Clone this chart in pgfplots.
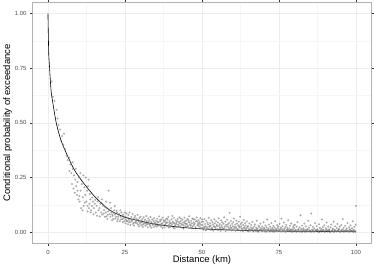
\documentclass[border=0pt]{standalone}
\usepackage{fontspec}
\setmainfont{Liberation Sans}
\usepackage{pgfplots}
\pgfplotsset{compat=1.18}
\begin{document}
\begin{tikzpicture}
\begin{axis}[
 scale only axis, width=341pt, height=242pt,
 xmin=-5, xmax=105, ymin=-0.05, ymax=1.05,
 xtick={0,25,50,75,100}, ytick={0,0.25,0.5,0.75,1},
 minor xtick={12.5,37.5,62.5,87.5}, minor ytick={0.125,0.375,0.625,0.875},
 yticklabel style={/pgf/number format/.cd, fixed, fixed zerofill, precision=2},
 /pgf/number format/assume math mode=true,
 grid=both, major grid style={gray!14, line width=0.5pt}, minor grid style={gray!7, line width=0.3pt},
 axis line style={gray!60, line width=0.7pt},
 tick style={gray!40!black, line width=0.4pt}, tick align=outside,
 major tick length=2.5pt, minor tick length=0pt,
 ticklabel style={font=\fontsize{6}{7}\selectfont, text=black!70},
 xlabel={Distance (km)}, ylabel={Conditional probability of exceedance},
 label style={font=\fontsize{9.5}{11}\selectfont},
 xlabel style={yshift=5pt},
 ylabel style={yshift=-4pt},
 xticklabel style={yshift=-1pt},
]
\addplot[only marks, mark=*, mark size=0.85pt, color=black!55, opacity=0.45, mark options={draw=none, fill=black!55}] coordinates {
(1.2,0.69)(1.6,0.62)(2.1,0.60)(2.8,0.56)(3.1,0.52)(3.4,0.49)(3.9,0.47)(4.6,0.44)(5.2,0.45)(4.2,0.42)(5.0,0.40)(5.6,0.38)(6.1,0.35)(6.4,0.33)(6.9,0.34)(7.3,0.31)(7.0,0.28)(7.6,0.27)(8.1,0.29)(8.4,0.26)(8.9,0.24)(7.8,0.22)(8.3,0.20)(8.7,0.18)(9.2,0.21)(9.6,0.23)(10.1,0.25)(9.4,0.17)(9.9,0.15)(10.3,0.14)(10.6,0.19)(11.0,0.22)(11.3,0.16)(10.8,0.11)(11.6,0.12)(12.1,0.17)(12.5,0.14)(12.9,0.12)(13.2,0.24)(13.5,0.13)(13.8,0.15)(14.0,0.10)(14.3,0.12)(14.6,0.14)(14.9,0.11)(15.2,0.13)(15.5,0.09)(15.8,0.12)(16.1,0.14)(16.4,0.10)(16.7,0.11)(17.0,0.13)(17.3,0.09)(17.6,0.08)(17.9,0.12)(18.2,0.10)(18.5,0.07)(18.8,0.09)(19.1,0.11)(19.4,0.08)(19.7,0.19)(20.0,0.10)(20.3,0.07)(20.6,0.09)(20.9,0.08)(21.2,0.06)(21.5,0.10)(21.8,0.08)(22.1,0.07)(22.4,0.09)(22.7,0.06)(23.0,0.08)(23.3,0.05)(23.6,0.07)(23.9,0.09)(24.2,0.06)(24.5,0.08)(24.8,0.05)
(9.0,0.29)(8.0,0.32)(10.5,0.27)(11.5,0.26)(12.3,0.25)(13.0,0.21)(12.0,0.135)(11.2,0.10)(13.3,0.11)(10.2,0.165)(9.6,0.19)
(18.1,0.085)(18.6,0.115)(19.0,0.072)(19.5,0.095)(20.1,0.082)(20.5,0.110)(21.0,0.075)(21.4,0.088)(21.9,0.062)(22.3,0.098)(22.8,0.071)(23.2,0.084)(23.7,0.058)(24.1,0.076)(24.6,0.065)(25.0,0.090)(19.3,0.060)(20.8,0.055)(22.5,0.050)(24.3,0.045)(23.5,0.100)(21.7,0.120)(20.2,0.135)(18.9,0.140)(17.5,0.150)(16.3,0.160)(15.3,0.148)(14.4,0.158)(13.6,0.175)(12.7,0.190)(11.8,0.205)(15.9,0.075)(14.8,0.082)(13.9,0.090)(12.9,0.095)(16.8,0.072)
(25.1,0.072)(25.3,0.058)(25.5,0.085)(25.7,0.049)(25.9,0.066)(26.1,0.078)(26.3,0.055)(26.5,0.090)(26.7,0.061)(26.9,0.047)(27.1,0.070)(27.3,0.052)(27.5,0.083)(27.7,0.059)(27.9,0.044)(28.1,0.067)(28.3,0.075)(28.5,0.050)(28.7,0.062)(28.9,0.041)(29.1,0.079)(29.3,0.056)(29.5,0.048)(29.7,0.065)(29.9,0.038)(30.1,0.071)(30.3,0.053)(30.5,0.045)(30.7,0.060)(30.9,0.036)(31.1,0.068)(31.3,0.049)(31.5,0.057)(31.7,0.042)(31.9,0.074)(32.1,0.051)(32.3,0.039)(32.5,0.063)(32.7,0.046)(32.9,0.055)(33.1,0.034)(33.3,0.069)(33.5,0.048)(33.7,0.041)(33.9,0.058)(34.1,0.037)(34.3,0.052)(34.5,0.064)(34.7,0.044)(34.9,0.031)
(25.2,0.040)(25.6,0.052)(26.0,0.036)(26.4,0.045)(26.8,0.033)(27.2,0.057)(27.6,0.038)(28.0,0.030)(28.4,0.043)(28.8,0.055)(29.2,0.034)(29.6,0.027)(30.0,0.046)(30.4,0.031)(30.8,0.024)(31.2,0.040)(31.6,0.029)(32.0,0.035)(32.4,0.022)(32.8,0.038)(33.2,0.027)(33.6,0.020)(34.0,0.033)(34.4,0.024)(34.8,0.040)
(35.1,0.052)(35.3,0.038)(35.5,0.061)(35.7,0.029)(35.9,0.045)(36.1,0.072)(36.3,0.034)(36.5,0.049)(36.7,0.026)(36.9,0.058)(37.1,0.041)(37.3,0.067)(37.5,0.031)(37.7,0.047)(37.9,0.022)(38.1,0.055)(38.3,0.039)(38.5,0.063)(38.7,0.028)(38.9,0.044)(39.1,0.070)(39.3,0.033)(39.5,0.051)(39.7,0.025)(39.9,0.042)(40.1,0.059)(40.3,0.036)(40.5,0.048)(40.7,0.020)(40.9,0.065)(41.1,0.040)(41.3,0.030)(41.5,0.054)(41.7,0.043)(41.9,0.024)(42.1,0.061)(42.3,0.035)(42.5,0.047)(42.7,0.068)(42.9,0.027)(43.1,0.050)(43.3,0.038)(43.5,0.021)(43.7,0.057)(43.9,0.044)(44.1,0.032)(44.3,0.066)(44.5,0.041)(44.7,0.026)(44.9,0.053)(45.1,0.037)(45.3,0.060)(45.5,0.029)(45.7,0.046)(45.9,0.073)(46.1,0.034)(46.3,0.019)(46.5,0.052)(46.7,0.040)(46.9,0.062)(47.1,0.028)(47.3,0.045)(47.5,0.035)(47.7,0.058)(47.9,0.023)(48.1,0.049)(48.3,0.067)(48.5,0.031)(48.7,0.042)(48.9,0.055)(49.1,0.026)(49.3,0.038)(49.5,0.064)(49.7,0.033)(49.9,0.047)
(35.2,0.025)(35.6,0.048)(36.0,0.031)(36.4,0.056)(36.8,0.037)(37.2,0.019)(37.6,0.053)(38.0,0.034)(38.4,0.046)(38.8,0.059)(39.2,0.021)(39.6,0.040)(40.0,0.030)(40.4,0.074)(40.8,0.043)(41.2,0.018)(41.6,0.036)(42.0,0.050)(42.4,0.027)(42.8,0.041)(43.2,0.062)(43.6,0.033)(44.0,0.016)(44.4,0.049)(44.8,0.038)(45.2,0.025)(45.6,0.055)(46.0,0.044)(46.4,0.030)(46.8,0.022)(47.2,0.060)(47.6,0.039)(48.0,0.017)(48.4,0.051)(48.8,0.034)(49.2,0.045)(49.6,0.020)(50.0,0.058)
(50.2,0.032)(50.4,0.048)(50.6,0.021)(50.8,0.060)(51.0,0.038)(51.2,0.027)(51.4,0.052)(51.6,0.015)(51.8,0.043)(52.0,0.035)(52.2,0.066)(52.4,0.024)(52.6,0.041)(52.8,0.030)(53.0,0.055)(53.2,0.018)(53.4,0.046)(53.6,0.036)(53.8,0.028)(54.0,0.059)(54.2,0.040)(54.4,0.022)(54.6,0.050)(54.8,0.033)(55.0,0.013)(55.2,0.044)(55.4,0.063)(55.6,0.029)(55.8,0.037)(56.0,0.020)(56.2,0.054)(56.4,0.031)(56.6,0.045)(56.8,0.017)(57.0,0.039)(57.2,0.068)(57.4,0.026)(57.6,0.048)(57.8,0.034)(58.0,0.012)(58.2,0.057)(58.4,0.036)(58.6,0.023)(58.8,0.042)(59.0,0.088)(59.2,0.030)(59.4,0.051)(59.6,0.019)(59.8,0.038)(60.0,0.027)(60.2,0.046)(60.4,0.062)(60.6,0.016)(60.8,0.035)(61.0,0.024)(61.2,0.053)(61.4,0.040)(61.6,0.011)(61.8,0.032)(62.0,0.048)(62.2,0.021)(62.4,0.071)(62.6,0.037)(62.8,0.026)(63.0,0.044)(63.2,0.014)(63.4,0.033)(63.6,0.056)(63.8,0.022)(64.0,0.041)(64.2,0.030)(64.4,0.009)(64.6,0.049)(64.8,0.025)
(50.1,0.018)(50.5,0.011)(50.9,0.025)(51.3,0.008)(51.7,0.022)(52.1,0.014)(52.5,0.029)(52.9,0.010)(53.3,0.020)(53.7,0.007)(54.1,0.024)(54.5,0.013)(54.9,0.028)(55.3,0.009)(55.7,0.019)(56.1,0.006)(56.5,0.023)(56.9,0.012)(57.3,0.017)(57.7,0.005)(58.1,0.026)(58.5,0.010)(58.9,0.015)(59.3,0.021)(59.7,0.008)(60.1,0.013)(60.5,0.024)(60.9,0.006)(61.3,0.018)(61.7,0.011)(62.1,0.027)(62.5,0.007)(62.9,0.016)(63.3,0.004)(63.7,0.020)(64.1,0.012)(64.5,0.018)(64.9,0.006)
(65.0,0.028)(65.2,0.015)(65.4,0.040)(65.6,0.008)(65.8,0.022)(66.0,0.033)(66.2,0.012)(66.4,0.047)(66.6,0.019)(66.8,0.006)(67.0,0.027)(67.2,0.036)(67.4,0.011)(67.6,0.021)(67.8,0.052)(68.0,0.016)(68.2,0.005)(68.4,0.030)(68.6,0.024)(68.8,0.010)(69.0,0.039)(69.2,0.018)(69.4,0.007)(69.6,0.026)(69.8,0.014)(70.0,0.045)(70.2,0.020)(70.4,0.004)(70.6,0.031)(70.8,0.012)(71.0,0.023)(71.2,0.058)(71.4,0.009)(71.6,0.017)(71.8,0.035)(72.0,0.006)(72.2,0.025)(72.4,0.013)(72.6,0.042)(72.8,0.019)(73.0,0.003)(73.2,0.029)(73.4,0.011)(73.6,0.022)(73.8,0.050)(74.0,0.015)(74.2,0.007)(74.4,0.032)(74.6,0.018)(74.8,0.026)(75.0,0.010)(75.2,0.038)(75.4,0.004)(75.6,0.021)(75.8,0.062)(76.0,0.014)(76.2,0.027)(76.4,0.008)(76.6,0.044)(76.8,0.017)(77.0,0.003)(77.2,0.024)(77.4,0.034)(77.6,0.012)(77.8,0.020)(78.0,0.055)(78.2,0.006)(78.4,0.016)(78.6,0.029)(78.8,0.009)(79.0,0.040)(79.2,0.013)(79.4,0.002)(79.6,0.023)(79.8,0.031)
(65.1,0.004)(65.5,0.012)(65.9,0.007)(66.3,0.016)(66.7,0.003)(67.1,0.010)(67.5,0.005)(67.9,0.014)(68.3,0.002)(68.7,0.009)(69.1,0.012)(69.5,0.004)(69.9,0.008)(70.3,0.015)(70.7,0.002)(71.1,0.006)(71.5,0.011)(71.9,0.003)(72.3,0.009)(72.7,0.005)(73.1,0.013)(73.5,0.002)(73.9,0.007)(74.3,0.010)(74.7,0.004)(75.1,0.008)(75.5,0.013)(75.9,0.003)(76.3,0.006)(76.7,0.010)(77.1,0.002)(77.5,0.007)(77.9,0.012)(78.3,0.004)(78.7,0.008)(79.1,0.003)(79.5,0.011)(79.9,0.005)
(80.0,0.019)(80.25,0.034)(80.5,0.008)(80.75,0.025)(81.0,0.046)(81.25,0.012)(81.5,0.003)(81.75,0.022)(82.0,0.077)(82.25,0.015)(82.5,0.030)(82.75,0.006)(83.0,0.018)(83.25,0.039)(83.5,0.010)(83.75,0.026)(84.0,0.002)(84.25,0.014)(84.5,0.052)(84.75,0.021)(85.0,0.007)(85.25,0.032)(85.5,0.085)(85.75,0.011)(86.0,0.024)(86.25,0.004)(86.5,0.017)(86.75,0.041)(87.0,0.009)(87.25,0.028)(87.5,0.013)(87.75,0.002)(88.0,0.036)(88.25,0.020)(88.5,0.006)(88.75,0.015)(89.0,0.058)(89.25,0.023)(89.5,0.010)(89.75,0.031)(90.0,0.003)(90.25,0.018)(90.5,0.044)(90.75,0.008)(91.0,0.026)(91.25,0.012)(91.5,0.001)(91.75,0.021)(92.0,0.035)(92.25,0.007)(92.5,0.016)(92.75,0.048)(93.0,0.011)(93.25,0.027)(93.5,0.004)(93.75,0.019)(94.0,0.038)(94.25,0.009)(94.5,0.014)(94.75,0.025)(95.0,0.002)(95.25,0.033)(95.5,0.012)(95.75,0.060)(96.0,0.020)(96.25,0.006)(96.5,0.029)(96.75,0.010)(97.0,0.017)(97.25,0.042)(97.5,0.003)(97.75,0.022)(98.0,0.013)(98.25,0.031)(98.5,0.007)(98.75,0.018)(99.0,0.050)(99.25,0.011)(99.5,0.024)(99.75,0.004)(100.0,0.120)(99.9,0.034)
(80.1,0.004)(80.4,0.010)(80.7,0.002)(81.1,0.007)(81.4,0.013)(81.8,0.003)(82.1,0.008)(82.4,0.001)(82.8,0.011)(83.1,0.005)(83.4,0.002)(83.8,0.009)(84.1,0.006)(84.4,0.012)(84.8,0.003)(85.1,0.008)(85.4,0.001)(85.8,0.005)(86.1,0.010)(86.4,0.002)(86.8,0.007)(87.1,0.004)(87.4,0.011)(87.8,0.006)(88.1,0.001)(88.4,0.008)(88.8,0.003)(89.1,0.010)(89.4,0.005)(89.8,0.002)(90.1,0.007)(90.4,0.012)(90.8,0.003)(91.1,0.006)(91.4,0.009)(91.8,0.002)(92.1,0.005)(92.4,0.010)(92.8,0.001)(93.1,0.006)(93.4,0.008)(93.8,0.003)(94.1,0.005)(94.4,0.011)(94.8,0.002)(95.1,0.007)(95.4,0.004)(95.8,0.009)(96.1,0.001)(96.4,0.006)(96.8,0.003)(97.1,0.008)(97.4,0.005)(97.8,0.002)(98.1,0.010)(98.4,0.004)(98.8,0.006)(99.1,0.002)(99.4,0.008)(99.8,0.003)
};
\addplot[black, line width=0.6pt, smooth] coordinates {
(0,1.000)(0.25,0.82)(0.5,0.76)(1,0.65)(1.5,0.60)(2,0.555)(2.7,0.50)(3.5,0.455)(4.5,0.41)(6,0.36)(7,0.33)(8,0.30)(9,0.275)(10,0.255)(11,0.235)(12.5,0.208)(14,0.182)(15.5,0.158)(17,0.138)(19,0.112)(21,0.093)(23,0.080)(25,0.068)(27.5,0.059)(30,0.051)(32.5,0.043)(35,0.036)(37.5,0.031)(40,0.027)(45,0.020)(50,0.015)(55,0.012)(60,0.0095)(65,0.0075)(70,0.006)(75,0.005)(80,0.004)(90,0.003)(100,0.002)
};
\end{axis}
\end{tikzpicture}
\end{document}
